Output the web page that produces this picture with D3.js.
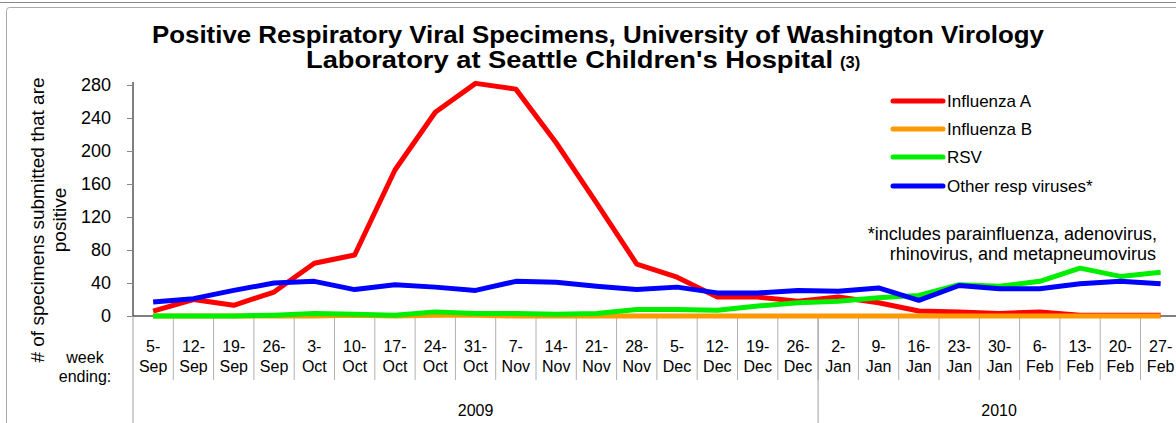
<!DOCTYPE html>
<html>
<head>
<meta charset="utf-8">
<script src="https://cdn.jsdelivr.net/npm/d3@7"></script>
<style>
  body { margin: 0; background: #fff; }
  svg { display: block; font-family: Arial, "Liberation Sans", Helvetica, sans-serif; }
</style>
</head>
<body>
<svg id="chart" width="1176" height="423"></svg>
<script>
// week-ending labels
const weeks = ['5-Sep', '12-Sep', '19-Sep', '26-Sep', '3-Oct', '10-Oct', '17-Oct', '24-Oct', '31-Oct',
    '7-Nov', '14-Nov', '21-Nov', '28-Nov', '5-Dec', '12-Dec', '19-Dec', '26-Dec',
    '2-Jan', '9-Jan', '16-Jan', '23-Jan', '30-Jan', '6-Feb', '13-Feb', '20-Feb', '27-Feb'];
const years = ['2009', '2010'];
const weeksPerYear = [17, 9];

const fluA  = [6, 20, 13, 29, 64, 74, 177, 247, 282, 275, 210, 137, 63, 47, 23, 23, 18, 23, 16, 6, 5, 3, 5, 1, 1, 1];
const fluB  = [0, 0, 0, 0, 0, 1, 0, 1, 1, 0, 0, 0, 0, 0, 0, 0, 0, 0, 0, 0, 0, 0, 0, 0, 0, 0];
const rsv   = [0, 0, 0, 1, 3, 2, 1, 5, 3, 3, 2, 3, 8, 8, 7, 12, 16, 18, 22, 25, 38, 36, 42, 58, 48, 53];
const other = [17, 21, 31, 40, 42, 32, 38, 35, 31, 42, 41, 36, 32, 35, 28, 28, 31, 30, 34, 19, 37, 33, 33, 39, 42, 39];

const yTicks = [0, 40, 80, 120, 160, 200, 240, 280];

const series = [
    { name: 'Influenza A', values: fluA, color: '#ff0000' },
    { name: 'Influenza B', values: fluB, color: '#ff9900' },
    { name: 'RSV', values: rsv, color: '#00ee00' },
    { name: 'Other resp viruses*', values: other, color: '#0000ff' },
];

const svg = d3.select('#chart');

// outer frame
svg.append('line').attr('x1', 0).attr('x2', 1176).attr('y1', 2.5).attr('y2', 2.5)
    .attr('stroke', '#8a8a8a');
svg.append('rect').attr('x', 6.5).attr('y', 7.5).attr('width', 1200).attr('height', 430)
    .attr('rx', 3).attr('fill', 'none').attr('stroke', '#a8a8a8');

const xs = d3.scaleBand().domain(weeks).range([133, 133 + 26 * 40.3]).padding(0);
const cx = (d) => xs(d) + xs.bandwidth() / 2;
const ys = d3.scaleLinear().domain([0, 280]).range([316, 85]);

// title
const title = svg.append('g').attr('font-weight', 'bold').attr('fill', '#000').attr('font-size', 24.5);
title.append('text').attr('x', 152).attr('y', 43)
    .attr('textLength', 892).attr('lengthAdjust', 'spacingAndGlyphs')
    .text('Positive Respiratory Viral Specimens, University of Washington Virology');
title.append('text').attr('x', 306).attr('y', 68)
    .attr('textLength', 527).attr('lengthAdjust', 'spacingAndGlyphs')
    .text('Laboratory at Seattle Children\'s Hospital');
title.append('text').attr('x', 840).attr('y', 68).attr('font-size', 16.5).text('(3)');

// y axis
const yAxis = svg.append('g').attr('transform', 'translate(133,0)')
    .call(d3.axisLeft(ys).tickValues(yTicks).tickSize(6).tickPadding(16).tickFormat(d3.format('d')));
yAxis.select('.domain').attr('d', 'M0,82V316').attr('stroke', '#000');
yAxis.selectAll('.tick line').attr('stroke', '#888');
yAxis.selectAll('.tick text').attr('font-size', 18).attr('fill', '#000')
    .attr('font-family', 'Arial, "Liberation Sans", sans-serif');

// y axis title
const yTitle = svg.append('g').attr('font-size', 19).attr('fill', '#000').attr('text-anchor', 'middle');
yTitle.append('text').attr('transform', 'translate(37,220) rotate(-90)').attr('dominant-baseline', 'central')
    .text('# of specimens submitted that are');
yTitle.append('text').attr('transform', 'translate(59,220) rotate(-90)').attr('dominant-baseline', 'central')
    .text('positive');

// x axis baseline
svg.append('line').attr('x1', 133).attr('x2', 1176).attr('y1', 316).attr('y2', 316).attr('stroke', '#000');

// category dividers
svg.append('g').selectAll('line').data(weeks.slice(1)).enter().append('line')
    .attr('x1', d => xs(d)).attr('x2', d => xs(d)).attr('y1', 316).attr('y2', 380)
    .attr('stroke', '#b0b0b0');

// year dividers
let cum = 0;
const yearStarts = weeksPerYear.map(n => { const s = cum; cum += n; return s; });
svg.append('g').selectAll('line').data(yearStarts).enter().append('line')
    .attr('x1', d => xs(weeks[d])).attr('x2', d => xs(weeks[d])).attr('y1', 316).attr('y2', 423)
    .attr('stroke', '#a0a0a0');

// week labels
const lbl = svg.append('g').attr('font-size', 16).attr('fill', '#000').attr('text-anchor', 'middle');
weeks.forEach(w => {
    const [day, mon] = w.split('-');
    lbl.append('text').attr('x', cx(w)).attr('y', 346).attr('dominant-baseline', 'central').text(day + '-');
    lbl.append('text').attr('x', cx(w)).attr('y', 366).attr('dominant-baseline', 'central').text(mon);
});
lbl.append('text').attr('x', 85).attr('y', 357).attr('dominant-baseline', 'central').text('week');
lbl.append('text').attr('x', 85).attr('y', 376).attr('dominant-baseline', 'central').text('ending:');

// year labels
years.forEach((y, i) => {
    const a = xs(weeks[yearStarts[i]]);
    const b = a + weeksPerYear[i] * xs.bandwidth();
    const mid = i === years.length - 1 ? (a + 1176 + 4) / 2 : (a + b) / 2;
    lbl.append('text').attr('x', mid).attr('y', 410).attr('dominant-baseline', 'central').text(y);
});

// lines
const line = d3.line().x((d, i) => cx(weeks[i])).y(d => ys(d));
svg.append('g').selectAll('path').data(series).enter().append('path')
    .attr('d', d => line(d.values)).attr('fill', 'none').attr('stroke', d => d.color)
    .attr('stroke-width', 5).attr('stroke-linejoin', 'round');

// legend
const legend = svg.append('g').attr('font-size', 17).attr('fill', '#000');
const legendY = [101, 129, 157, 186];
series.forEach((s, i) => {
    legend.append('line').attr('x1', 893).attr('x2', 943).attr('y1', legendY[i]).attr('y2', legendY[i])
        .attr('stroke', s.color).attr('stroke-width', 5).attr('stroke-linecap', 'round');
    legend.append('text').attr('x', 947).attr('y', legendY[i]).attr('dominant-baseline', 'central').text(s.name);
});

// footnote
const note = svg.append('g').attr('font-size', 18).attr('fill', '#000').attr('text-anchor', 'end');
note.append('text').attr('x', 1157).attr('y', 234).attr('dominant-baseline', 'central')
    .text('*includes parainfluenza, adenovirus,');
note.append('text').attr('x', 1156).attr('y', 254).attr('dominant-baseline', 'central')
    .text('rhinovirus, and metapneumovirus');
</script>
</body>
</html>
